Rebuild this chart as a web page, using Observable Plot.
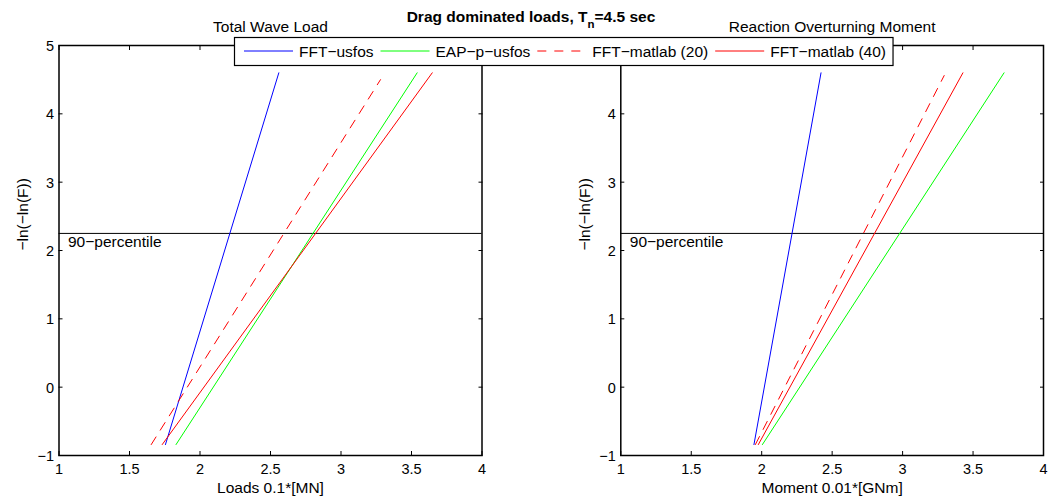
<!DOCTYPE html>
<html>
<head>
<meta charset="utf-8">
<script src="https://cdn.jsdelivr.net/npm/d3@7"></script>
<script src="https://cdn.jsdelivr.net/npm/@observablehq/plot@0.6"></script>
<style>
  body { margin: 0; background: #fff; }
  #wrap { position: relative; width: 1054px; height: 502px; overflow: hidden; font-family: "Liberation Sans", Arial, Helvetica, sans-serif; }
  #wrap > svg { position: absolute; top: 0; }
</style>
</head>
<body>
<div id="wrap"></div>
<script>
// ---- Data ----
const mainTitle = "Drag dominated loads, T";
const mainTitleSub = "n";
const mainTitleRest = "=4.5 sec";
const seriesNames = ["FFT−usfos", "EAP−p−usfos", "FFT−matlab (20)", "FFT−matlab (40)"];
const seriesColors = ["#0000ff", "#00ff00", "#ff0000", "#ff0000"];
const seriesDash = [null, null, "9,8", null];

// Left panel: Total Wave Load — end points of each straight Gumbel line
const loadsXLow  = [1.755, 1.830, 1.654, 1.732];
const loadsXHigh = [2.559, 3.540, 3.280, 3.647];
const loadsYLow  = [-0.84, -0.84, -0.84, -0.84];
const loadsYHigh = [4.60, 4.60, 4.50, 4.60];

// Right panel: Reaction Overturning Moment
const momentXLow  = [1.945, 2.005, 1.955, 1.976];
const momentXHigh = [2.421, 3.720, 3.295, 3.428];
const momentYLow  = [-0.84, -0.84, -0.84, -0.84];
const momentYHigh = [4.60, 4.60, 4.56, 4.60];

const xTicks = [1, 1.5, 2, 2.5, 3, 3.5, 4];
const yTicks = [-1, 0, 1, 2, 3, 4, 5];
const pct90 = 2.25;
const pct90Label = "90−percentile";
const yLabel = "−ln(−ln(F))";

const FONT = '"Liberation Sans", Arial, Helvetica, sans-serif';
const fmt = d => (d < 0 ? "−" + (-d) : String(d));

function panel(title, xLabel, xl, xh, yl, yh, mLeft, mRight) {
  const lineMarks = seriesNames.map((s, i) => {
    const pts = [{x: xl[i], y: yl[i]}, {x: xh[i], y: yh[i]}];
    const opts = {x: "x", y: "y", stroke: seriesColors[i], strokeWidth: 1};
    if (seriesDash[i]) opts.strokeDasharray = seriesDash[i];
    return Plot.line(pts, opts);
  });
  return Plot.plot({
    width: 527,
    height: 502,
    marginLeft: mLeft,
    marginRight: mRight,
    marginTop: 45,
    marginBottom: 47,
    style: {fontFamily: FONT, fontSize: "14.5px", background: "transparent", overflow: "visible", color: "black"},
    x: {domain: [1, 4]},
    y: {domain: [-1, 5]},
    marks: [
      Plot.ruleY([pct90], {stroke: "black", strokeWidth: 1}),
      Plot.text([pct90], {y: d => d, frameAnchor: "left", text: () => pct90Label, textAnchor: "start", lineAnchor: "top", dx: 9, dy: 3, fontSize: 15.5, fill: "black"}),
      ...lineMarks,
      Plot.frame({stroke: "black", strokeWidth: 1.5}),
      Plot.axisX(xTicks, {anchor: "bottom", tickSize: 0, tickPadding: 8, tickFormat: fmt, label: null}),
      Plot.axisX(xTicks, {anchor: "bottom", tickSize: -4, text: null, label: null}),
      Plot.axisX(xTicks, {anchor: "top", tickSize: -4, text: null, label: null}),
      Plot.axisY(yTicks, {anchor: "left", tickSize: 0, tickPadding: 5, tickFormat: fmt, label: null, dy: 1}),
      Plot.axisY(yTicks, {anchor: "left", tickSize: -4, text: null, label: null}),
      Plot.axisY(yTicks, {anchor: "right", tickSize: -4, text: null, label: null}),
      Plot.text([title], {frameAnchor: "top", text: d => d, lineAnchor: "top", dy: -24.3, fontSize: 15.5, fill: "black"}),
      Plot.text([xLabel], {frameAnchor: "bottom", text: d => d, lineAnchor: "top", dy: 26.7, fontSize: 15.5, fill: "black"}),
      Plot.text([yLabel], {frameAnchor: "left", text: d => d, rotate: -90, lineAnchor: "middle", dx: -36, fontSize: 15.5, fill: "black"})
    ]
  });
}

const wrap = document.getElementById("wrap");
const left = panel("Total Wave Load", "Loads 0.1*[MN]", loadsXLow, loadsXHigh, loadsYLow, loadsYHigh, 58.5, 45.5);
left.style.left = "0px";
left.style.position = "absolute";
wrap.appendChild(left);
const right = panel("Reaction Overturning Moment", "Moment 0.01*[GNm]", momentXLow, momentXHigh, momentYLow, momentYHigh, 93.3, 11);
right.style.left = "527px";
right.style.position = "absolute";
wrap.appendChild(right);

// Overlay: main title and legend
const ov = d3.select("#wrap").append("svg")
  .attr("width", 1054).attr("height", 80)
  .style("left", "0px").style("top", "0px").style("position", "absolute")
  .style("font-family", FONT);

const tt = ov.append("text").attr("x", 531).attr("y", 21.7)
  .attr("text-anchor", "middle").style("font-weight", "bold").style("font-size", "15.5px");
tt.append("tspan").text(mainTitle);
tt.append("tspan").attr("dy", 6).style("font-size", "11.5px").text(mainTitleSub);
tt.append("tspan").attr("dy", -6).text(mainTitleRest);

const box = ov.append("rect").attr("fill", "white").attr("stroke", "black").attr("stroke-width", 1.2);
let cx = 244;
seriesNames.forEach((s, i) => {
  const ln = ov.append("line").attr("x1", cx).attr("x2", cx + 49).attr("y1", 51).attr("y2", 51)
    .attr("stroke", seriesColors[i]).attr("stroke-width", 1);
  if (seriesDash[i]) ln.attr("stroke-dasharray", seriesDash[i]);
  const t = ov.append("text").attr("x", cx + 55).attr("y", 56.5).style("font-size", "15.5px").text(s);
  cx = cx + 55 + t.node().getComputedTextLength() + 7;
});
box.attr("x", 234.5).attr("y", 37.5).attr("width", cx - 234.5).attr("height", 28);
</script>
</body>
</html>
